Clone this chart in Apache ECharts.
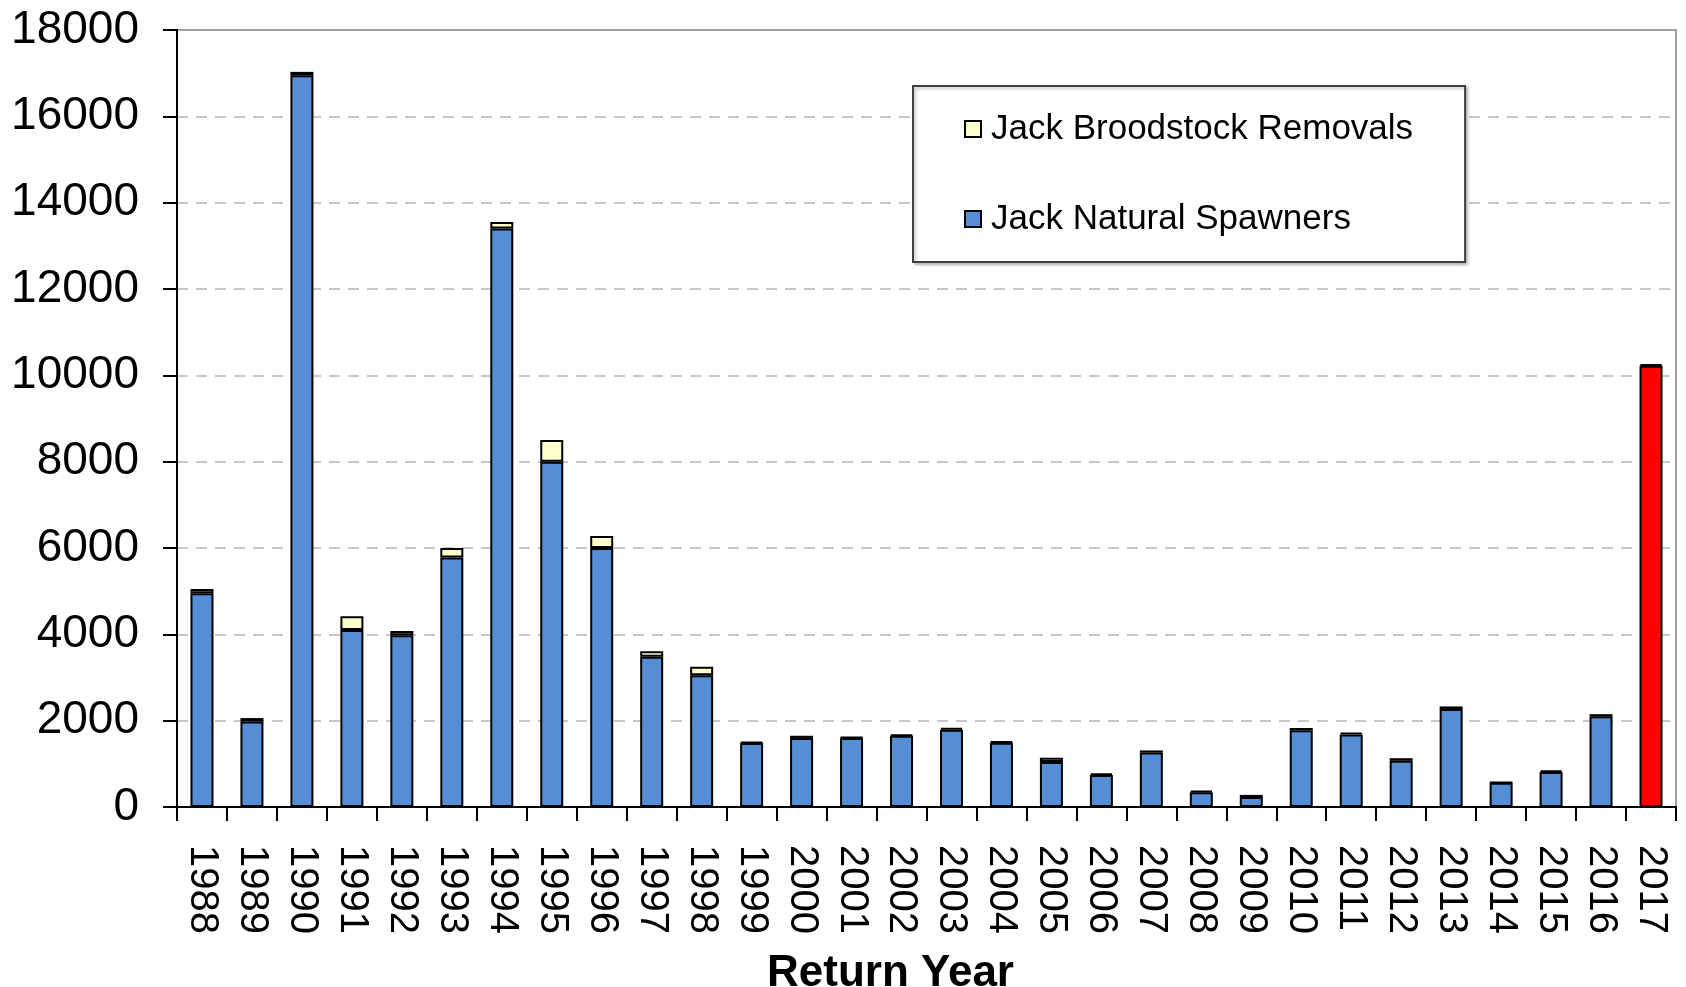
<!DOCTYPE html>
<html>
<head>
<meta charset="utf-8">
<script src="https://cdn.jsdelivr.net/npm/echarts@6/dist/echarts.min.js"></script>
<style>
html,body{margin:0;padding:0;background:#fff;}
#chart{width:1686px;height:987px;}
</style>
</head>
<body>
<div id="chart"></div>
<script>
var years = ['1988','1989','1990','1991','1992','1993','1994','1995','1996','1997','1998','1999','2000','2001','2002','2003','2004','2005','2006','2007','2008','2009','2010','2011','2012','2013','2014','2015','2016','2017'];
var naturalSpawners = [4950,1980,16950,4100,3980,5780,13400,8000,6000,3480,3050,1480,1600,1600,1650,1790,1490,1040,740,1260,340,230,1780,1680,1070,2270,560,810,2100,10220];
var broodstockRemovals = [100,80,80,320,100,220,150,500,280,130,200,30,50,20,30,40,30,100,40,50,40,50,50,40,60,60,10,40,50,40];
var yTicks = [0,2000,4000,6000,8000,10000,12000,14000,16000,18000];

var FONT = '"Liberation Sans", Arial, sans-serif';
var highlightYear = '2017';

var naturalData = naturalSpawners.map(function (v, i) {
  if (years[i] === highlightYear) {
    return { value: v, itemStyle: { color: '#ff0000' } };
  }
  return v;
});

var chart = echarts.init(document.getElementById('chart'), null, { renderer: 'canvas' });
chart.setOption({
  animation: false,
  backgroundColor: '#ffffff',
  grid: {
    left: 177, right: 10, top: 30, bottom: 180,
    outerBoundsMode: 'none',
    containLabel: false,
    show: true, borderColor: '#a0a0a0', borderWidth: 2, backgroundColor: 'transparent'
  },
  legend: {
    orient: 'vertical',
    left: 913, top: 86,
    padding: [23, 52, 23, 51],
    borderColor: '#404040', borderWidth: 2,
    backgroundColor: '#fff',
    shadowColor: 'rgba(0,0,0,0.25)', shadowBlur: 3, shadowOffsetX: 2, shadowOffsetY: 2,
    itemWidth: 16, itemHeight: 16, itemGap: 50,
    icon: 'rect',
    data: ['Jack Broodstock Removals', 'Jack Natural Spawners'],
    textStyle: { fontFamily: FONT, fontSize: 35, color: '#000', lineHeight: 40, padding: [0, 0, 0, 5] }
  },
  xAxis: {
    type: 'category',
    data: years,
    name: 'Return Year',
    nameLocation: 'middle',
    nameGap: 145,
    nameTextStyle: { fontFamily: FONT, fontSize: 44, fontWeight: 'bold', color: '#000', padding: [0, 72, 0, 0] },
    axisLine: { show: true, lineStyle: { color: '#000', width: 2 } },
    axisTick: { show: true, length: 14, lineStyle: { color: '#000', width: 2 } },
    axisLabel: { rotate: -90, margin: 38, fontFamily: FONT, fontSize: 40, color: '#000', interval: 0 },
    splitLine: { show: false }
  },
  yAxis: {
    type: 'value',
    min: 0, max: 18000, interval: 2000,
    axisLine: { show: true, lineStyle: { color: '#000', width: 2 } },
    axisTick: { show: true, length: 14, lineStyle: { color: '#000', width: 2 } },
    axisLabel: {
      margin: 38, fontFamily: FONT, fontSize: 46, color: '#000',
      customValues: yTicks,
      formatter: function (v) { return String(v); }
    },
    splitLine: { show: true, showMaxLine: false, showMinLine: false, lineStyle: { color: '#c8c8c8', width: 2, type: [11, 8] } }
  },
  series: [
    {
      name: 'Jack Natural Spawners',
      type: 'bar',
      stack: 'total',
      barWidth: 23,
      data: naturalData,
      itemStyle: { color: '#558ed5', borderColor: '#000', borderWidth: 2 }
    },
    {
      name: 'Jack Broodstock Removals',
      type: 'bar',
      stack: 'total',
      barWidth: 23,
      data: broodstockRemovals,
      itemStyle: { color: '#ffffcc', borderColor: '#000', borderWidth: 2 }
    }
  ]
});
</script>
</body>
</html>
